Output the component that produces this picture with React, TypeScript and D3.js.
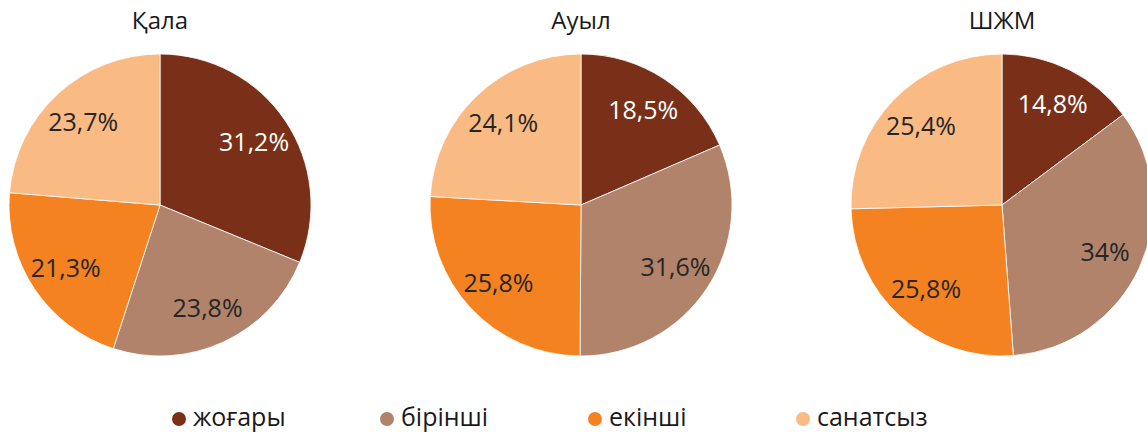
import React from "react";
import * as d3 from "d3";

const categories = ["жоғары", "бірінші", "екінші", "санатсыз"];
const groups = ["Қала", "Ауыл", "ШЖМ"];
const valuesQala = [31.2, 23.8, 21.3, 23.7];
const valuesAuyl = [18.5, 31.6, 25.8, 24.1];
const valuesShzhm = [14.8, 34, 25.8, 25.4];
const colors = ["#7A2F18", "#B0836A", "#F58220", "#F9BA84"];
const labelColors = ["#FFFFFF", "#262626", "#262626", "#262626"];

const W = 1147;
const H = 432;
const FONT = "'Open Sans', 'Noto Sans', sans-serif";

const series = [valuesQala, valuesAuyl, valuesShzhm];
const centersX = [160, 581, 1002];
const cy = 205;
const R = 151;

const fmt = (v: number) => {
  const s = Number.isInteger(v) ? String(v) : v.toFixed(1);
  return s.replace(".", ",") + "%";
};

export default function App() {
  const pie = d3.pie<number>().sort(null).value((d) => d);
  const arc = d3.arc<d3.PieArcDatum<number>>().innerRadius(0).outerRadius(R);
  const labelArc = d3
    .arc<d3.PieArcDatum<number>>()
    .innerRadius(R * 0.75)
    .outerRadius(R * 0.75);
  const legendX = d3.scaleLinear().domain([0, 1]).range([179, 387]);

  return (
    <svg
      width={W}
      height={H}
      style={{ position: "absolute", left: 0, top: 0, display: "block", background: "#fff" }}
      fontFamily={FONT}
    >
      {series.map((vals, gi) => {
        const arcs = pie(vals);
        return (
          <g key={gi} transform={`translate(${centersX[gi]},${cy})`}>
            <text x={0} y={-176} textAnchor="middle" fontSize={24} fill="#1a1a1a">
              {groups[gi]}
            </text>
            {arcs.map((a, i) => (
              <path
                key={i}
                d={arc(a) || ""}
                fill={colors[i]}
                stroke="#ffffff"
                strokeWidth={0.8}
              />
            ))}
            {arcs.map((a, i) => {
              const [lx, ly] = labelArc.centroid(a);
              return (
                <text
                  key={"l" + i}
                  x={lx}
                  y={ly + 9}
                  textAnchor="middle"
                  fontSize={25}
                  fill={labelColors[i]}
                >
                  {fmt(vals[i])}
                </text>
              );
            })}
          </g>
        );
      })}
      <g>
        {categories.map((c, i) => (
          <g key={c} transform={`translate(${legendX(i)},0)`}>
            <circle cx={0} cy={419} r={7} fill={colors[i]} />
            <text x={14} y={426} fontSize={25} fill="#1a1a1a">
              {c}
            </text>
          </g>
        ))}
      </g>
    </svg>
  );
}
